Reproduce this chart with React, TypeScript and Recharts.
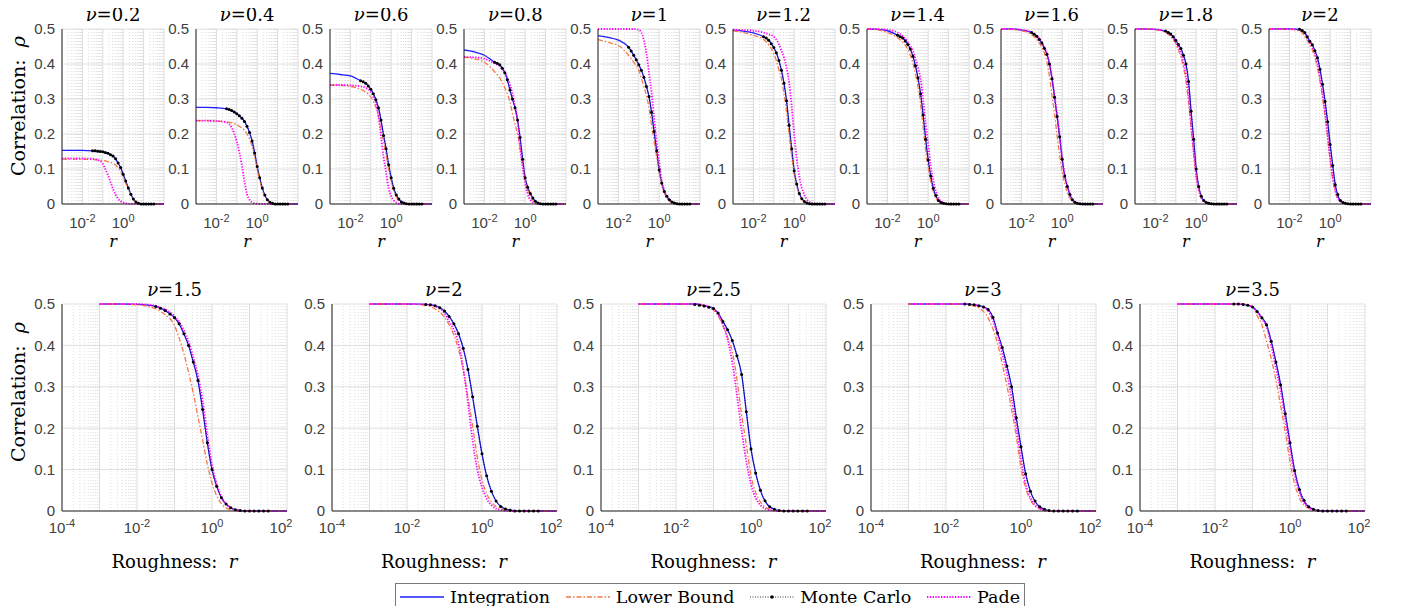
import { LineChart, Line, XAxis, YAxis, CartesianGrid, ReferenceLine } from 'recharts';

// r grid for the curves (log10: -3, -2.5, -2, -1.5, -1.25 ... 0.25, 0.5, 0.75, 1, 2)
const R = [0.001, 0.00316, 0.01, 0.0316, 0.0562, 0.1, 0.133, 0.178, 0.237, 0.316, 0.422, 0.562, 0.75, 1, 1.33, 1.78, 3.16, 5.62, 10, 100];
// r grid of the Monte Carlo samples (log10 -1.5 .. 1.5, step 0.125)
const MC_R = [0.0316, 0.0422, 0.0562, 0.075, 0.1, 0.133, 0.178, 0.237, 0.316, 0.422, 0.562, 0.75, 1, 1.33, 1.78, 2.37, 3.16, 4.22, 5.62, 7.5, 10, 13.3, 17.8, 23.7, 31.6];

const NU_TOP = [0.2, 0.4, 0.6, 0.8, 1, 1.2, 1.4, 1.6, 1.8, 2];
const NU_BOTTOM = [1.5, 2, 2.5, 3, 3.5];

const INT_TOP = [
  [.153, .153, .153, .152, .151, .149, .147, .145, .141, .137, .129, .117, .104, .085, .066, .046, .014, .002, 0, 0],
  [.276, .276, .275, .272, .267, .258, .252, .245, .236, .222, .204, .18, .146, .107, .075, .046, .012, .002, 0, 0],
  [.373, .37, .366, .352, .345, .328, .315, .298, .275, .24, .196, .158, .112, .075, .045, .026, .006, .001, 0, 0],
  [.44, .435, .425, .405, .398, .375, .355, .326, .3, .275, .24, .19, .128, .075, .048, .03, .008, .001, 0, 0],
  [.481, .476, .468, .448, .425, .398, .382, .362, .336, .307, .262, .207, .152, .097, .06, .036, .012, .003, 0, 0],
  [.497, .494, .489, .478, .468, .447, .432, .41, .382, .345, .295, .225, .158, .095, .057, .03, .007, .001, 0, 0],
  [.5, .499, .495, .482, .474, .456, .443, .422, .395, .36, .315, .255, .185, .126, .08, .045, .01, .002, 0, 0],
  [.5, .5, .497, .49, .479, .46, .445, .428, .4, .358, .305, .25, .192, .128, .08, .05, .012, .002, 0, 0],
  [.5, .5, .499, .494, .486, .468, .456, .444, .425, .4, .35, .265, .185, .1, .05, .022, .004, .001, 0, 0],
  [.5, .5, .5, .499, .49, .465, .455, .438, .418, .385, .342, .293, .235, .17, .11, .055, .01, .002, 0, 0],
];
const LB_TOP = [
  [.128, .128, .128, .127, .126, .124, .123, .121, .119, .116, .111, .104, .093, .077, .06, .042, .013, .002, 0, 0],
  [.238, .238, .237, .235, .232, .226, .222, .217, .21, .2, .186, .165, .135, .1, .068, .04, .01, .001, 0, 0],
  [.34, .339, .336, .328, .32, .305, .293, .276, .252, .218, .18, .14, .1, .065, .038, .02, .004, 0, 0, 0],
  [.42, .415, .405, .378, .36, .332, .315, .292, .26, .228, .2, .16, .115, .068, .04, .022, .005, 0, 0, 0],
  [.47, .462, .453, .425, .405, .382, .36, .335, .31, .275, .225, .18, .135, .09, .055, .032, .01, .002, 0, 0],
  [.495, .49, .482, .47, .455, .43, .41, .383, .358, .315, .262, .2, .14, .085, .05, .027, .006, .001, 0, 0],
  [.5, .498, .49, .475, .462, .442, .425, .403, .372, .335, .285, .222, .155, .105, .065, .036, .008, .001, 0, 0],
  [.5, .499, .495, .484, .47, .448, .432, .405, .365, .31, .258, .195, .14, .092, .058, .033, .008, .001, 0, 0],
  [.5, .5, .498, .49, .478, .458, .44, .42, .39, .35, .29, .215, .145, .08, .04, .018, .003, 0, 0, 0],
  [.5, .5, .499, .495, .478, .455, .44, .418, .39, .35, .303, .25, .19, .125, .072, .036, .007, .001, 0, 0],
];
const MC_TOP = [
  [.152, .152, .151, .15, .149, .147, .145, .141, .137, .129, .117, .104, .085, .066, .046, .028, .014, .006, .002, 0, 0, 0, 0, 0, 0],
  [.272, .27, .267, .263, .258, .252, .245, .236, .222, .204, .18, .146, .107, .075, .046, .026, .012, .005, .002, 0, 0, 0, 0, 0, 0],
  [.352, .349, .345, .337, .328, .315, .298, .275, .24, .196, .158, .112, .075, .045, .026, .014, .006, .003, .001, 0, 0, 0, 0, 0, 0],
  [.405, .402, .398, .388, .375, .355, .326, .3, .275, .24, .19, .128, .075, .048, .03, .017, .008, .003, .001, 0, 0, 0, 0, 0, 0],
  [.448, .437, .425, .412, .398, .382, .362, .336, .307, .262, .207, .152, .097, .06, .036, .022, .012, .006, .003, .001, 0, 0, 0, 0, 0],
  [.478, .474, .468, .458, .447, .432, .41, .382, .345, .295, .225, .158, .095, .057, .03, .015, .007, .003, .001, 0, 0, 0, 0, 0, 0],
  [.482, .478, .474, .466, .456, .443, .422, .395, .36, .315, .255, .185, .126, .08, .045, .024, .01, .004, .002, .001, 0, 0, 0, 0, 0],
  [.49, .485, .479, .47, .46, .445, .428, .4, .358, .305, .25, .192, .128, .08, .05, .027, .012, .005, .002, .001, 0, 0, 0, 0, 0],
  [.494, .49, .486, .478, .468, .456, .444, .425, .4, .35, .265, .185, .1, .05, .022, .01, .004, .002, .001, 0, 0, 0, 0, 0, 0],
  [.499, .496, .49, .478, .465, .455, .438, .418, .385, .342, .293, .235, .17, .11, .055, .027, .01, .004, .002, .001, 0, 0, 0, 0, 0],
];
const PADE_TOP = [
  [.13, .13, .13, .129, .126, .115, .1, .083, .063, .043, .027, .015, .008, .004, .002, .001, 0, 0, 0, 0],
  [.238, .238, .237, .233, .218, .178, .148, .11, .065, .028, .012, .005, .002, .001, 0, 0, 0, 0, 0, 0],
  [.34, .34, .339, .336, .332, .32, .306, .288, .25, .195, .135, .09, .045, .022, .01, .004, 0, 0, 0, 0],
  [.42, .419, .415, .402, .394, .376, .362, .342, .316, .28, .238, .16, .105, .06, .028, .012, .002, 0, 0, 0],
  [.5, .5, .5, .5, .5, .498, .49, .468, .43, .375, .32, .245, .178, .12, .068, .038, .01, .002, 0, 0],
  [.498, .497, .495, .49, .485, .478, .47, .456, .438, .418, .39, .347, .28, .2, .13, .078, .026, .006, .001, 0],
  [.5, .5, .498, .49, .48, .463, .452, .438, .415, .39, .358, .3, .23, .17, .11, .067, .018, .003, 0, 0],
  [.5, .5, .498, .491, .481, .463, .448, .431, .404, .362, .31, .256, .198, .133, .084, .052, .013, .002, 0, 0],
  [.5, .5, .499, .493, .483, .463, .448, .432, .405, .37, .31, .23, .15, .082, .04, .018, .003, 0, 0, 0],
  [.5, .5, .5, .498, .487, .462, .448, .43, .402, .36, .315, .26, .195, .13, .075, .037, .007, .001, 0, 0],
];

const INT_BOTTOM = [
  [.5, .5, .499, .494, .484, .467, .452, .428, .4, .36, .315, .245, .165, .1, .06, .032, .008, .001, 0, 0],
  [.5, .5, .5, .499, .496, .483, .47, .452, .428, .393, .342, .276, .205, .138, .085, .048, .011, .002, 0, 0],
  [.5, .5, .5, .5, .496, .489, .478, .458, .438, .412, .375, .33, .24, .15, .092, .05, .01, .001, 0, 0],
  [.5, .5, .5, .5, .498, .493, .487, .468, .43, .395, .35, .3, .225, .155, .09, .048, .01, .001, 0, 0],
  [.5, .5, .5, .5, .499, .493, .482, .467, .45, .41, .36, .305, .235, .165, .098, .052, .01, .001, 0, 0],
];
const LB_BOTTOM = [
  [.5, .5, .498, .488, .474, .448, .418, .38, .335, .285, .228, .172, .113, .068, .037, .018, .003, 0, 0, 0],
  [.5, .5, .5, .497, .488, .468, .45, .425, .39, .34, .275, .205, .13, .075, .042, .022, .005, .001, 0, 0],
  [.5, .5, .5, .5, .495, .485, .472, .447, .42, .385, .318, .232, .16, .085, .045, .022, .004, 0, 0, 0],
  [.5, .5, .5, .5, .495, .482, .466, .44, .405, .355, .302, .245, .18, .105, .055, .027, .005, 0, 0, 0],
  [.5, .5, .5, .5, .5, .492, .472, .45, .41, .368, .315, .255, .19, .12, .065, .032, .006, 0, 0, 0],
];
const MC_BOTTOM = [
  [.494, .49, .484, .476, .467, .452, .428, .4, .36, .315, .245, .165, .1, .06, .032, .017, .008, .003, .001, 0, 0, 0, 0, 0, 0],
  [.499, .498, .496, .491, .483, .47, .452, .428, .393, .342, .276, .205, .138, .085, .048, .024, .011, .005, .002, 0, 0, 0, 0, 0, 0],
  [.499, .497, .495, .492, .489, .478, .458, .438, .412, .375, .33, .24, .15, .092, .05, .025, .01, .004, .001, 0, 0, 0, 0, 0, 0],
  [.5, .499, .498, .496, .493, .487, .468, .43, .395, .35, .3, .225, .155, .09, .048, .024, .01, .004, .001, 0, 0, 0, 0, 0, 0],
  [.5, .5, .499, .497, .493, .482, .467, .45, .41, .36, .305, .235, .165, .098, .052, .026, .01, .004, .001, 0, 0, 0, 0, 0, 0],
];
const PADE_BOTTOM = [
  [.5, .5, .5, .495, .487, .471, .457, .436, .41, .372, .328, .268, .185, .113, .066, .035, .008, .001, 0, 0],
  [.5, .5, .5, .499, .495, .478, .458, .437, .405, .345, .262, .17, .1, .058, .03, .014, .002, 0, 0, 0],
  [.5, .5, .5, .5, .497, .488, .474, .452, .415, .36, .28, .195, .12, .065, .032, .014, .002, 0, 0, 0],
  [.5, .5, .5, .5, .498, .492, .483, .46, .425, .38, .332, .272, .203, .125, .065, .032, .006, 0, 0, 0],
  [.5, .5, .5, .5, .499, .493, .481, .464, .445, .4, .345, .29, .22, .15, .088, .046, .008, .001, 0, 0],
];

const Y_TICKS = [0, 0.1, 0.2, 0.3, 0.4, 0.5];
const X_TICKS_TOP = [0.01, 1];
const X_TICKS_BOTTOM = [0.0001, 0.01, 1, 100];
const DECADES_TOP = [0.001, 0.01, 0.1, 1, 10, 100];
const DECADES_BOTTOM = [0.0001, 0.001, 0.01, 0.1, 1, 10, 100];

const minorsOf = (decades: number[]) =>
  decades.slice(0, -1).flatMap((d) => [2, 3, 4, 5, 6, 7, 8, 9].map((m) => m * d));

const SANS = '"Liberation Sans", Arial, sans-serif';
const SERIF = '"DejaVu Serif", serif';
const AXIS_GRAY = '#404040';

const YW = 44;
const MT = 10;
const MR = 6;
const XH = 34;

function PowTick({ x, y, payload, base }: any) {
  const e = Math.round(Math.log10(payload.value));
  return (
    <text x={x} y={y + base} textAnchor="middle" fill={AXIS_GRAY} fontFamily={SANS} fontSize={15}>
      10<tspan dy={-6} fontSize={11}>{e}</tspan>
    </text>
  );
}

interface PanelProps {
  left: number;
  top: number;
  w: number;
  h: number;
  nu: number;
  int: number[];
  lb: number[];
  mc: number[];
  pade: number[];
  domain: [number, number];
  xTicks: number[];
  decades: number[];
  tickBase: number;
}

function Panel({ left, top, w, h, nu, int, lb, mc, pade, domain, xTicks, decades, tickBase }: PanelProps) {
  const rows = R.map((r, i) => ({ r, int: int[i], lb: lb[i], pade: pade[i] }));
  const mcRows = MC_R.map((r, i) => ({ r, mc: mc[i] }));
  const minors = minorsOf(decades);
  return (
    <div style={{ position: 'absolute', left: left - YW, top: top - MT }}>
      <LineChart
        width={w + YW + MR}
        height={h + MT + XH}
        data={rows}
        margin={{ top: MT, right: MR, bottom: 0, left: 0 }}
      >
        <CartesianGrid vertical={false} stroke="#e0e0e0" />
        {minors.map((m) => (
          <ReferenceLine key={'m' + m} x={m} stroke="#cfcfcf" strokeWidth={0.7} strokeDasharray="1 2" />
        ))}
        {decades.map((d) => (
          <ReferenceLine key={'d' + d} x={d} stroke="#dcdcdc" />
        ))}
        <XAxis
          dataKey="r"
          type="number"
          scale="log"
          domain={domain}
          ticks={xTicks}
          allowDataOverflow
          height={XH}
          tickSize={0}
          tickLine={false}
          axisLine={{ stroke: '#262626' }}
          tick={(p: any) => <PowTick {...p} base={tickBase} />}
        />
        <YAxis
          type="number"
          domain={[0, 0.5]}
          ticks={Y_TICKS}
          width={YW}
          tickSize={0}
          tickMargin={7}
          tickLine={false}
          axisLine={{ stroke: '#262626' }}
          tick={{ fill: AXIS_GRAY, fontSize: 15, fontFamily: SANS }}
        />
        <Line dataKey="int" type="monotone" stroke="#1f1fff" strokeWidth={1.3} dot={false} isAnimationActive={false} />
        <Line
          dataKey="lb"
          type="monotone"
          stroke="#f47a4a"
          strokeWidth={1.3}
          strokeDasharray="5 2 1.5 2"
          dot={false}
          isAnimationActive={false}
        />
        <Line
          data={mcRows}
          dataKey="mc"
          type="monotone"
          stroke="#000"
          strokeWidth={0.8}
          strokeDasharray="1 1.5"
          dot={{ r: 1.5, fill: '#000', stroke: 'none' }}
          isAnimationActive={false}
        />
        <Line
          dataKey="pade"
          type="monotone"
          stroke="#ff00ff"
          strokeWidth={1.8}
          strokeDasharray="1.3 1.5"
          dot={false}
          isAnimationActive={false}
        />
      </LineChart>
      <div
        style={{
          position: 'absolute',
          left: YW,
          width: w,
          top: -14,
          textAlign: 'center',
          fontFamily: SERIF,
          fontSize: 18,
          lineHeight: '20px',
          color: '#000',
          whiteSpace: 'nowrap',
        }}
      >
        <i>ν</i>=<span>{nu}</span>
      </div>
    </div>
  );
}

function Label({ x, y, text, rotate, size = 18 }: { x: number; y: number; text: React.ReactNode; rotate?: boolean; size?: number }) {
  return (
    <div
      style={{
        position: 'absolute',
        left: x,
        top: y,
        transform: `translate(-50%, -50%)${rotate ? ' rotate(-90deg)' : ''}`,
        fontFamily: SERIF,
        fontSize: size,
        lineHeight: `${size}px`,
        whiteSpace: 'nowrap',
        color: '#000',
      }}
    >
      {text}
    </div>
  );
}

function LegendSample({ kind }: { kind: string }) {
  return (
    <svg width={48} height={12} style={{ marginRight: 4 }}>
      {kind === 'int' && <line x1={2} y1={6} x2={46} y2={6} stroke="#1f1fff" strokeWidth={1.5} />}
      {kind === 'lb' && (
        <line x1={2} y1={6} x2={46} y2={6} stroke="#f47a4a" strokeWidth={1.5} strokeDasharray="5 2 1.5 2" />
      )}
      {kind === 'mc' && (
        <>
          <line x1={2} y1={6} x2={46} y2={6} stroke="#000" strokeWidth={0.8} strokeDasharray="1 1.5" />
          <circle cx={24} cy={6} r={1.8} fill="#000" />
        </>
      )}
      {kind === 'pade' && (
        <line x1={2} y1={6} x2={46} y2={6} stroke="#ff00ff" strokeWidth={1.8} strokeDasharray="1.3 1.5" />
      )}
    </svg>
  );
}

const TOP_Y = 29;
const TOP_H = 175;
const TOP_W = 102;
const BOT_Y = 304;
const BOT_H = 207;
const BOT_W = 225;

export default function App() {
  return (
    <div style={{ position: 'relative', width: 1403, height: 614, margin: -8, background: '#fff', overflow: 'hidden' }}>
      {NU_TOP.map((nu, i) => {
        const left = 62 + i * 134.1;
        return (
          <div key={'t' + i}>
            <Panel
              left={left}
              top={TOP_Y}
              w={TOP_W}
              h={TOP_H}
              nu={nu}
              int={INT_TOP[i]}
              lb={LB_TOP[i]}
              mc={MC_TOP[i]}
              pade={PADE_TOP[i]}
              domain={[0.001, 100]}
              xTicks={X_TICKS_TOP}
              decades={DECADES_TOP}
              tickBase={22}
            />
            <Label x={left + TOP_W / 2} y={242} size={16} text={<i>r</i>} />
          </div>
        );
      })}
      {NU_BOTTOM.map((nu, i) => {
        const left = 62 + i * 269.5;
        return (
          <div key={'b' + i}>
            <Panel
              left={left}
              top={BOT_Y}
              w={BOT_W}
              h={BOT_H}
              nu={nu}
              int={INT_BOTTOM[i]}
              lb={LB_BOTTOM[i]}
              mc={MC_BOTTOM[i]}
              pade={PADE_BOTTOM[i]}
              domain={[0.0001, 100]}
              xTicks={X_TICKS_BOTTOM}
              decades={DECADES_BOTTOM}
              tickBase={20}
            />
            <Label
              x={left + BOT_W / 2}
              y={562}
              text={
                <span>
                  Roughness: &nbsp;<i>r</i>
                </span>
              }
            />
          </div>
        );
      })}
      <Label x={18} y={106} rotate size={19} text={<span>Correlation: &nbsp;<i>ρ</i></span>} />
      <Label x={18} y={392} rotate size={19} text={<span>Correlation: &nbsp;<i>ρ</i></span>} />
      <div
        style={{
          position: 'absolute',
          left: 395,
          top: 583,
          width: 630,
          height: 28,
          boxSizing: 'border-box',
          border: '1px solid #7a7a7a',
          background: '#fff',
          display: 'flex',
          alignItems: 'center',
          justifyContent: 'space-between',
          padding: '0 4px 0 2px',
          fontFamily: SERIF,
          fontSize: 17.5,
          color: '#000',
        }}
      >
        {[
          ['int', 'Integration'],
          ['lb', 'Lower Bound'],
          ['mc', 'Monte Carlo'],
          ['pade', 'Pade'],
        ].map(([k, t]) => (
          <span key={k} style={{ display: 'flex', alignItems: 'center', whiteSpace: 'nowrap' }}>
            <LegendSample kind={k} />
            {t}
          </span>
        ))}
      </div>
    </div>
  );
}
